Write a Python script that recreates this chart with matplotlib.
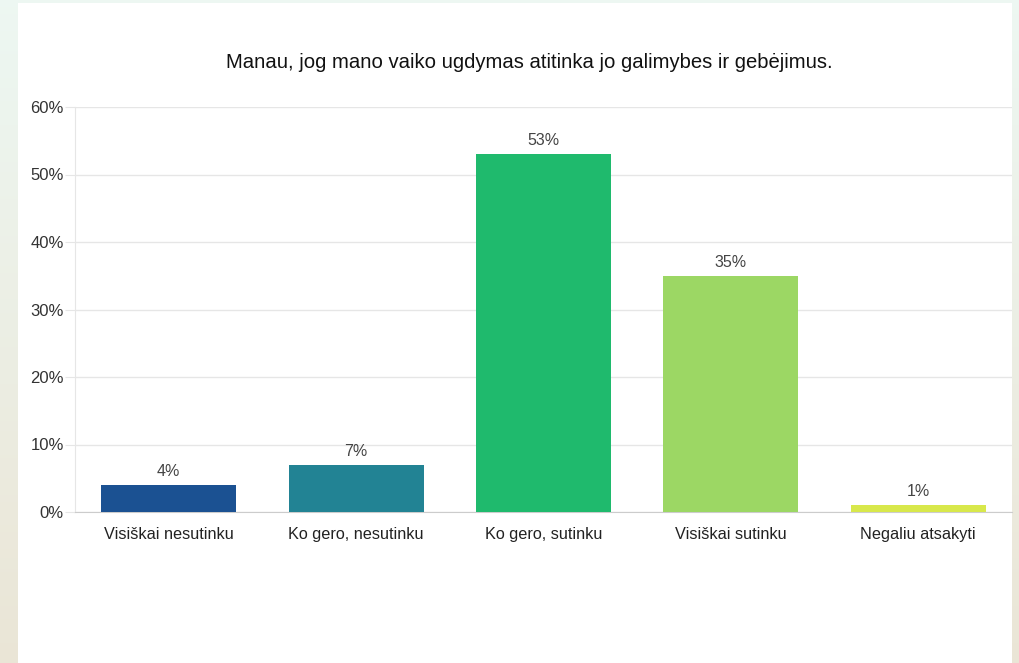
import numpy as np
import matplotlib.pyplot as plt
from matplotlib.patches import Rectangle

plt.rcParams['font.family'] = ['Liberation Sans', 'DejaVu Sans']

# Data
categories = ["Visiškai nesutinku", "Ko gero, nesutinku", "Ko gero, sutinku",
              "Visiškai sutinku", "Negaliu atsakyti"]
values = [4, 7, 53, 35, 1]
colors = ['#1b5192', '#228394', '#1fba6d', '#9cd764', '#d8e84b']
yticks = [0, 10, 20, 30, 40, 50, 60]
title = "Manau, jog mano vaiko ugdymas atitinka jo galimybes ir gebėjimus."

W, H = 1020, 663
fig = plt.figure(figsize=(W / 100, H / 100), dpi=100)

# background gradient (mint at top -> beige at bottom)
bg = fig.add_axes([0, 0, 1, 1])
top = np.array([0.93, 0.97, 0.95])
bot = np.array([0.92, 0.90, 0.84])
t = np.linspace(0, 1, 256)[:, None]
grad = top * (1 - t) + bot * t
bg.imshow(grad[:, None, :].repeat(4, axis=1), aspect='auto', extent=[0, 1, 0, 1])
bg.add_patch(Rectangle((18 / W, 0), (1012 - 18) / W, 1 - 3 / H,
                       facecolor='white', edgecolor='none'))
bg.set_xlim(0, 1)
bg.set_ylim(0, 1)
bg.axis('off')

# main chart
ax = fig.add_axes([75 / W, 1 - 512 / H, (1012 - 75) / W, (512 - 107) / H])
ax.set_facecolor('none')
x = np.arange(len(categories))
ax.bar(x, values, width=0.72, color=colors, zorder=3)
for xi, v in zip(x, values):
    ax.text(xi, v + 0.9, f"{v}%", ha='center', va='bottom', fontsize=11.5, color='#444444')

ax.set_xlim(-0.5, len(categories) - 0.5)
ax.set_ylim(0, 60)
ax.set_yticks(yticks)
ax.set_yticklabels([f"{v}%" for v in yticks], fontsize=12, color='#333333')
ax.set_xticks(x)
ax.set_xticklabels(categories, fontsize=11.7, color='#222222')
ax.tick_params(axis='y', length=7, color='#e6e6e6', pad=1)
ax.tick_params(axis='x', length=0, pad=11)
ax.grid(axis='y', color='#e6e6e6', linewidth=1, zorder=0)
for s in ['top', 'right']:
    ax.spines[s].set_visible(False)
ax.spines['left'].set_color('#e6e6e6')
ax.spines['bottom'].set_color('#cccccc')

fig.text(529 / W, 1 - 62 / H, title, ha='center', va='center', fontsize=14.6, color='#111111')

fig.savefig('out.png', dpi=100)
